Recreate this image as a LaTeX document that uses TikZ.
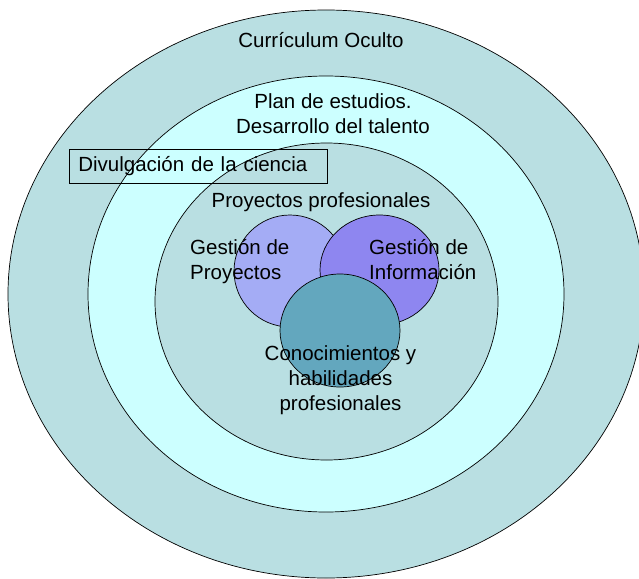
\documentclass[tikz,border=0pt]{standalone}
\usepackage{fontspec}
\setmainfont{Liberation Sans}
\usetikzlibrary{shapes.geometric}

\definecolor{ringteal}{RGB}{185,223,226}
\definecolor{ringcyan}{RGB}{204,255,255}
\definecolor{gpfill}{RGB}{164,172,245}
\definecolor{gifill}{RGB}{142,134,240}
\definecolor{chfill}{RGB}{99,167,190}

\tikzset{
  ring/.style={ellipse, draw=black, line width=0.7pt, inner sep=0pt},
  lbl/.style={inner sep=0pt, font=\fontsize{20.5}{25}\selectfont, text=black},
}

\begin{document}
\begin{tikzpicture}[x=1pt, y=-1pt]
  \useasboundingbox (0,0) rectangle (639,578);
  \begin{scope}
    \clip (0,0) rectangle (639,578);
    % nested curriculum rings
    \node[ring, fill=ringteal, minimum width=636pt, minimum height=568pt] (oculto) at (326,294) {};
    \node[ring, fill=ringcyan, minimum width=476pt, minimum height=436pt] (plan) at (326,294) {};
    \node[ring, fill=ringteal, minimum width=343pt, minimum height=317pt] (proyectos) at (326.5,301.5) {};
  \end{scope}

  % outreach box (transparent)
  \node[draw=black, line width=0.7pt, anchor=north west, minimum width=258pt, minimum height=34.6pt,
        text width=239pt, inner xsep=9.5pt, align=left, font=\fontsize{20.5}{25}\selectfont]
        (divulgacion) at (68.5,148.7) {Divulgación de la ciencia};

  % three overlapping competence circles
  \node[ring, fill=gpfill, minimum width=112pt, minimum height=112pt] (gp) at (290,271) {};
  \node[ring, fill=gifill, minimum width=119pt, minimum height=110pt] (gi) at (379.5,270) {};
  \node[ring, fill=chfill, minimum width=120pt, minimum height=113pt] (ch) at (340,330.5) {};

  % labels (multi-line nodes: base anchor sits on the last line)
  \node[lbl, anchor=base] (toculto) at (321,48) {Currículum Oculto};
  \node[lbl, align=center, anchor=base] (tplan) at (333,133) {Plan de estudios.\\Desarrollo del talento};
  \node[lbl, anchor=base] (tproy) at (321,207) {Proyectos profesionales};
  \node[lbl, align=left, anchor=base west] (tgp) at (190,279) {Gestión de\\Proyectos};
  \node[lbl, align=left, anchor=base west] (tgi) at (369,279) {Gestión de\\Información};
  \node[lbl, align=center, anchor=base] (tch) at (340.5,410) {Conocimientos y\\habilidades\\profesionales};
\end{tikzpicture}
\end{document}
